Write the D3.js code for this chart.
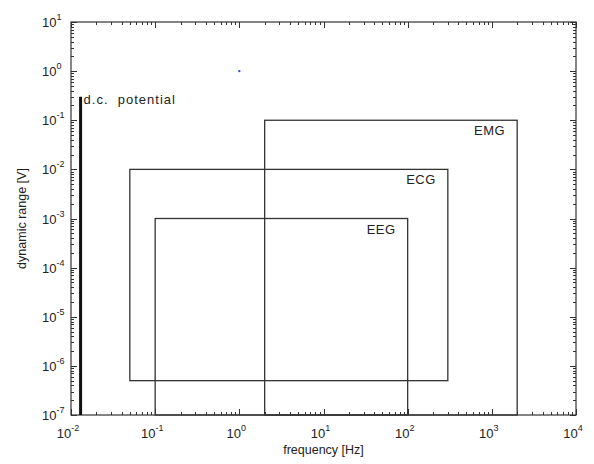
<!DOCTYPE html>
<html>
<head>
<meta charset="utf-8">
<script src="https://cdn.jsdelivr.net/npm/d3@7"></script>
<style>
  body { margin: 0; background: #fff; }
  text { font-family: "Liberation Sans", Arial, sans-serif; fill: #222; }
</style>
</head>
<body>
<svg id="chart" width="594" height="464"></svg>
<script>
// signal ranges: frequency band [Hz] vs amplitude band [V]
var signals = ["EEG", "ECG", "EMG"];
var fLow = [0.1, 0.05, 2];
var fHigh = [100, 300, 2000];
var vLow = [1e-7, 5e-7, 1e-7];
var vHigh = [1e-3, 1e-2, 1e-1];

// d.c. potential bar
var dcFreq = 0.013;
var dcRange = [1e-7, 0.3];

var xTickExp = [-2, -1, 0, 1, 2, 3, 4];
var yTickExp = [-7, -6, -5, -4, -3, -2, -1, 0, 1];

var svg = d3.select("#chart");
// note: "top" is a window global, so plot edges get a prefix
var pLeft = 71, pRight = 576, pTop = 22, pBottom = 415;

var x = d3.scaleLog().domain([1e-2, 1e4]).range([pLeft, pRight]);
var y = d3.scaleLog().domain([1e-7, 1e1]).range([pBottom, pTop]);

// minor ticks 2..9 per decade
function minors(lo, hi) {
  var out = [];
  for (var e = lo; e < hi; e++) {
    for (var m = 2; m <= 9; m++) out.push(m * Math.pow(10, e));
  }
  return out;
}
var xMinor = minors(-2, 4), yMinor = minors(-7, 1);

var g = svg.append("g");

// ticks, pointing inward on all four sides
function xticks(vals, len) {
  vals.forEach(function(v) {
    var px = Math.round(x(v)) + 0.5;
    g.append("line").attr("class", "tick")
      .attr("x1", px).attr("x2", px).attr("y1", pBottom).attr("y2", pBottom - len);
    g.append("line").attr("class", "tick")
      .attr("x1", px).attr("x2", px).attr("y1", pTop).attr("y2", pTop + len);
  });
}
function yticks(vals, len) {
  vals.forEach(function(v) {
    var py = Math.round(y(v)) + 0.5;
    g.append("line").attr("class", "tick")
      .attr("x1", pLeft).attr("x2", pLeft + len).attr("y1", py).attr("y2", py);
    g.append("line").attr("class", "tick")
      .attr("x1", pRight).attr("x2", pRight - len).attr("y1", py).attr("y2", py);
  });
}
xticks(xMinor, 3);
xticks(xTickExp.map(function(e) { return Math.pow(10, e); }), 6);
yticks(yMinor, 3);
yticks(yTickExp.map(function(e) { return Math.pow(10, e); }), 6);
g.selectAll("line.tick").attr("stroke", "#333").attr("stroke-width", 1);

// frame
g.append("rect")
  .attr("x", pLeft).attr("y", pTop)
  .attr("width", pRight - pLeft).attr("height", pBottom - pTop)
  .attr("fill", "none").attr("stroke", "#333").attr("stroke-width", 1.2);

// tick labels
xTickExp.forEach(function(e) {
  var t = svg.append("text")
    .attr("x", x(Math.pow(10, e)) - 3).attr("y", 438)
    .attr("text-anchor", "middle").style("font-size", "13px");
  t.append("tspan").text("10");
  t.append("tspan").attr("dy", -7).style("font-size", "9px").text(e);
});
yTickExp.forEach(function(e) {
  var t = svg.append("text")
    .attr("x", 42).attr("y", y(Math.pow(10, e)) + 5)
    .attr("text-anchor", "start").style("font-size", "13px");
  t.append("tspan").text("10");
  t.append("tspan").attr("dy", -7).style("font-size", "9px").text(e);
});

// axis titles
svg.append("text")
  .attr("x", (pLeft + pRight) / 2).attr("y", 454)
  .attr("text-anchor", "middle").style("font-size", "12.5px")
  .text("frequency [Hz]");
svg.append("text")
  .attr("transform", "translate(26," + (pTop + pBottom) / 2 + ") rotate(-90)")
  .attr("text-anchor", "middle").style("font-size", "12.5px")
  .text("dynamic range [V]");

// signal boxes
signals.forEach(function(name, i) {
  var x0 = x(fLow[i]), x1 = x(fHigh[i]), y0 = y(vHigh[i]), y1 = y(vLow[i]);
  g.append("rect")
    .attr("x", x0).attr("y", y0)
    .attr("width", x1 - x0).attr("height", y1 - y0)
    .attr("fill", "none").attr("stroke", "#333").attr("stroke-width", 1.3);
  svg.append("text")
    .attr("x", x1 - 12).attr("y", y0 + 15)
    .attr("text-anchor", "end").style("font-size", "13px")
    .style("letter-spacing", "0.5px")
    .text(name);
});

// d.c. potential
g.append("line")
  .attr("x1", x(dcFreq)).attr("x2", x(dcFreq))
  .attr("y1", y(dcRange[0])).attr("y2", y(dcRange[1]))
  .attr("stroke", "#111").attr("stroke-width", 3);
svg.append("text")
  .attr("x", x(dcFreq) + 3).attr("y", y(dcRange[1]) + 7)
  .style("font-size", "13px").style("letter-spacing", "1px")
  .style("white-space", "pre")
  .text("d.c.  potential");

// stray marker at (1, 1)
g.append("rect")
  .attr("x", x(1) - 1).attr("y", y(1) - 1)
  .attr("width", 2).attr("height", 2).attr("fill", "#3344dd");
</script>
</body>
</html>
